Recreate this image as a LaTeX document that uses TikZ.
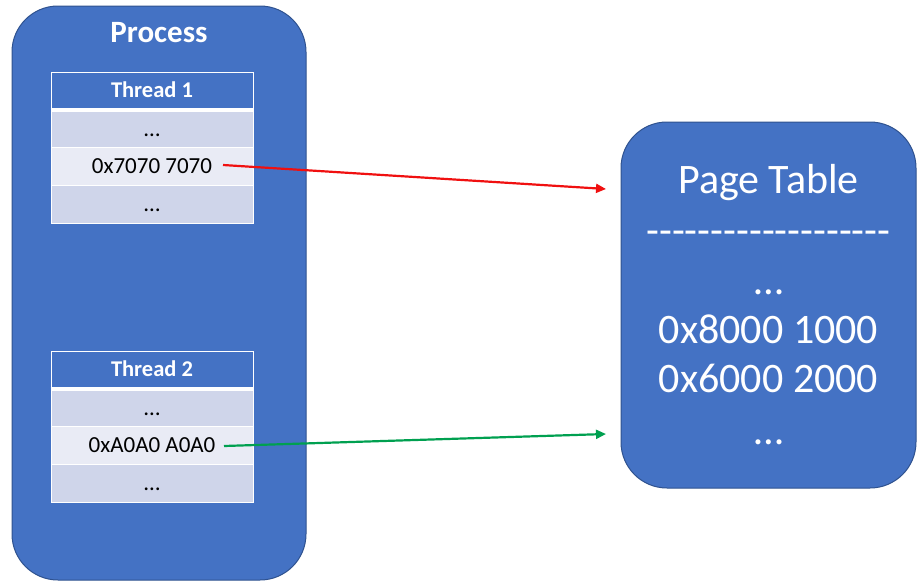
\documentclass[tikz,border=0pt]{standalone}
\usepackage{fontspec}
\setmainfont{Carlito}
\usetikzlibrary{arrows.meta}
\definecolor{obox}{HTML}{4472C4}
\definecolor{oedge}{HTML}{2F528F}
\definecolor{rowdark}{HTML}{CFD5EA}
\definecolor{rowlight}{HTML}{E9EBF5}
\definecolor{arrred}{HTML}{F01010}
\definecolor{arrgreen}{HTML}{00A050}
\newcommand{\hyph}{\mbox{-}}
\tikzset{
  bigbox/.style={fill=obox, draw=oedge, line width=1pt, rounded corners=46pt},
  cell/.style={rectangle, draw=white, line width=1pt, inner sep=0pt, minimum width=202pt, text height=14.5pt, text depth=0pt, font=\fontsize{23}{27}\selectfont, text=black},
  hcell/.style={cell, fill=obox, text=white, font=\bfseries\fontsize{22.5}{27}\selectfont, minimum height=37pt},
  dcell/.style={cell, fill=rowdark},
  lcell/.style={cell, fill=rowlight},
  pt/.style={anchor=base, text=white, inner sep=0pt, font=\fontsize{42}{50}\selectfont},
  conn/.style={line width=2.2pt, -{Triangle[length=10pt,width=9pt]}}
}
\begin{document}
\begin{tikzpicture}[x=1pt,y=-1pt]
\useasboundingbox (0,0) rectangle (924,587);
% process
\draw[bigbox] (12,6) rectangle (306,580);
\node[text=white, font=\bfseries\fontsize{31}{37}\selectfont, inner sep=0pt] (ptitle) at (159,33) {Process};
% thread 1
\node[hcell] (t1h) at (152,90.5) {Thread 1};
\node[dcell, minimum height=36pt] (t1a) at (152,129) {…};
\node[lcell, minimum height=38pt] (t1b) at (152,166) {0x7070 7070};
\node[dcell, minimum height=38pt] (t1c) at (152,204) {…};
\draw[white, line width=3pt] (t1h.south west) -- (t1h.south east);
% thread 2
\node[hcell] (t2h) at (152,369.5) {Thread 2};
\node[dcell, minimum height=36pt] (t2a) at (152,408) {…};
\node[lcell, minimum height=38pt] (t2b) at (152,445) {0xA0A0 A0A0};
\node[dcell, minimum height=38pt] (t2c) at (152,483) {…};
\draw[white, line width=3pt] (t2h.south west) -- (t2h.south east);
% page table
\draw[bigbox] (621,122) rectangle (916,488);
\node[pt] (ptt) at (768.5,193) {Page Table};
\node[pt] (ptd) at (768.5,244) {\hyph\hyph\hyph\hyph\hyph\hyph\hyph\hyph\hyph\hyph\hyph\hyph\hyph\hyph\hyph\hyph\hyph\hyph\hyph};
\node[pt] (pe1) at (768.5,294) {…};
\node[pt] (pa1) at (768.5,343) {0x8000 1000};
\node[pt] (pa2) at (768.5,392) {0x6000 2000};
\node[pt] (pe2) at (768.5,444) {…};
% connectors
\coordinate (s1) at (223,165);
\coordinate (e1) at (606,189);
\coordinate (s2) at (224,446);
\coordinate (e2) at (606,434);
\draw[conn, arrred] (s1) -- (e1);
\draw[conn, arrgreen] (s2) -- (e2);
\end{tikzpicture}
\end{document}
